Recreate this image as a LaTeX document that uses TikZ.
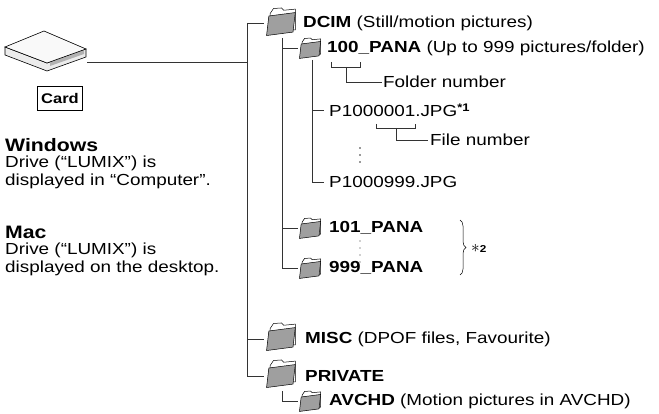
\documentclass[tikz,border=0pt]{standalone}
\usepackage{fontspec}
\setmainfont{Liberation Sans}[FakeStretch=1.18]
\usetikzlibrary{decorations.pathreplacing}
\begin{document}
\begin{tikzpicture}[x=1pt,y=-1pt,
  ln/.style={draw=black!80,line width=0.8pt},
  dot/.style={fill=black!80},
  txt/.style={anchor=west,inner sep=0pt,font=\fontsize{16}{18}\selectfont},
  ltx/.style={anchor=west,inner sep=0pt,font=\fontsize{16}{17.5}\selectfont,align=left},
  folder/.pic={
    \fill[white,draw=black,line width=0.5pt] (0,-2) -- (0,14) -- (22,12) -- (22,-6) -- (12,-5) -- (10,-7) -- (3,-6.5) -- cycle;
    \fill[gray!75,draw=black,line width=0.5pt] (-3,17) -- (-1,0) -- (22,-3) -- (20,14) -- cycle;
  }]
\useasboundingbox (0,0) rectangle (659,414);
% card reader
\fill[gray!15,draw=black,line width=0.6pt] (5,47) -- (5,55) -- (47,71) -- (86,57) -- (86,49) -- (47,63) -- cycle;
\fill[gray!60] (50,66) -- (84,54) -- (84,50) -- (50,62) -- cycle;
\fill[gray!5,draw=black,line width=0.6pt] (5,47) -- (44,31) -- (86,49) -- (47,63) -- cycle;
\coordinate (card) at (87,62);
\node[draw,line width=0.7pt,minimum width=45pt,minimum height=24pt,inner sep=0pt,font=\fontsize{14}{14}\selectfont\bfseries] (cardlbl) at (60,98) {Card};
\node[ltx] (win) at (5,145) {\textbf{\fontsize{18}{18}\selectfont Windows}};
\node[ltx,anchor=north west] (wint) at (5,156) {Drive (“LUMIX”) is\\displayed in “Computer”.};
\node[ltx] (mac) at (5,232) {\textbf{\fontsize{18}{18}\selectfont Mac}};
\node[ltx,anchor=north west] (mact) at (5,243) {Drive (“LUMIX”) is\\displayed on the desktop.};
% trunk
\coordinate (t0) at (247,23);
\coordinate (tc) at (247,62);
\coordinate (t1) at (247,376);
\draw[ln] (card) -- (tc);
\draw[ln] (t0) -- (t1);
% DCIM
\pic[scale=1.15] at (270,16) {folder};
\node[txt] (dcim) at (303,23) {\textbf{DCIM} (Still/motion pictures)};
\draw[ln] (t0) -- (264,23);
\coordinate (d0) at (282,38);
\coordinate (d1) at (282,268);
\draw[ln] (d0) -- (d1);
% 100_PANA
\pic[scale=0.85] at (302,44) {folder};
\node[txt] (p100) at (327,48) {\textbf{100\_PANA} (Up to 999 pictures/folder)};
\draw[ln] (282,48) -- (298,48);
\draw[ln] (312,60) -- (312,182);
\draw[ln] (331,62) -- (331,67) -- (360,67) -- (360,62);
\draw[ln] (346,67) -- (346,82) -- (382,82);
\node[txt] (fn) at (383,82) {Folder number};
\node[txt] (f1) at (329,110) {P1000001.JPG\textbf{\raisebox{5pt}{\fontsize{11}{11}\selectfont *1}}};
\draw[ln] (312,110) -- (324,110);
\draw[ln] (376,124) -- (376,128) -- (415,128) -- (415,124);
\draw[ln] (396,128) -- (396,140) -- (428,140);
\node[txt] (fin) at (430,140) {File number};
\foreach \yy in {148,155,162} \fill[dot] (360,\yy) circle (0.9pt);
\node[txt] (f2) at (329,182) {P1000999.JPG};
\draw[ln] (312,182) -- (324,182);
% 101 / 999
\pic[scale=0.85] at (302,224) {folder};
\node[txt] (p101) at (329,228) {\textbf{101\_PANA}};
\draw[ln] (282,228) -- (298,228);
\pic[scale=0.85] at (302,264) {folder};
\node[txt] (p999) at (329,268) {\textbf{999\_PANA}};
\draw[ln] (282,268) -- (298,268);
\foreach \yy in {241,248,255,262} \fill[dot] (360,\yy) circle (0.7pt);
\draw[line width=0.5pt,decorate,decoration={brace,amplitude=6pt}] (460,220) -- (460,275);
\node[txt] (s2) at (471,248) {$\ast$\textbf{\fontsize{10}{10}\selectfont 2}};
% MISC, PRIVATE
\pic[scale=1.15] at (270,331) {folder};
\node[txt] (misc) at (305,339) {\textbf{MISC} (DPOF files, Favourite)};
\draw[ln] (247,339) -- (264,339);
\pic[scale=1.15] at (270,368) {folder};
\node[txt] (priv) at (305,376) {\textbf{PRIVATE}};
\draw[ln] (247,376) -- (264,376);
\draw[ln] (282,391) -- (282,401) -- (298,401);
\pic[scale=0.85] at (302,397) {folder};
\node[txt] (avc) at (329,401) {\textbf{AVCHD} (Motion pictures in AVCHD)};
\end{tikzpicture}
\end{document}
